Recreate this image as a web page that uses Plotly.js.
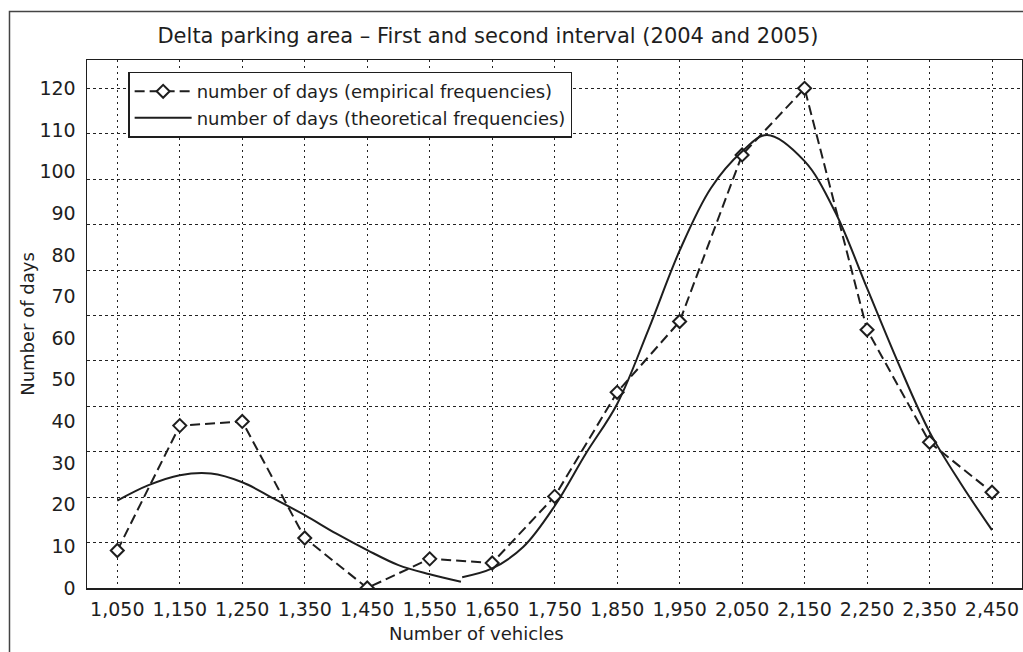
<!DOCTYPE html>
<html>
<head>
<meta charset="utf-8">
<script src="https://cdn.plot.ly/plotly-3.0.1.min.js"></script>
<style>html,body{margin:0;padding:0;background:#fff;}#chart{width:1023px;height:652px;}</style>
</head>
<body>
<div id="chart"></div>
<script>
// Categories (number of vehicles)
var vehicles = [1050, 1150, 1250, 1350, 1450, 1550, 1650, 1750, 1850, 1950, 2050, 2150, 2250, 2350, 2450];
var vehicleLabels = ["1,050","1,150","1,250","1,350","1,450","1,550","1,650","1,750","1,850","1,950","2,050","2,150","2,250","2,350","2,450"];
// Empirical frequencies (number of days)
var empiricalDays = [9, 39, 40, 12, 0, 7, 6, 22, 47, 64, 104, 120, 62, 35, 23];
// Theoretical frequencies (fitted curve, two pieces)
var theoX1 = [1050, 1100, 1150, 1200, 1250, 1300, 1350, 1400, 1450, 1500, 1550, 1600];
var theoY1 = [21, 24.7, 27.1, 27.5, 25.4, 21.5, 17.5, 13.1, 9.1, 5.5, 3.3, 1.5];
var theoX2 = [1602, 1650, 1700, 1750, 1800, 1850, 1900, 1950, 2000, 2050, 2090, 2150, 2200, 2250, 2300, 2350, 2400, 2450];
var theoY2 = [2.6, 4.7, 9.9, 19.7, 32.3, 44.2, 62, 81, 96, 104.8, 108.8, 102.5, 90, 72, 54, 37.5, 25.1, 13.9];
// Axis tick labels
var dayTicks = [0, 10, 20, 30, 40, 50, 60, 70, 80, 90, 100, 110, 120];
var dayTickLabels = ["0","10","20","30","40","50","60","70","80","90","100","110","120"];
var gridSteps = [1, 2, 3, 4, 5, 6, 7, 8, 9, 10, 11];

var yMax = 126.8;
var gridVals = gridSteps.map(function (k) { return k * 120 / 11; });

var theoX = theoX1.concat([null], theoX2);
var theoY = theoY1.concat([null], theoY2);

var FONT = "DejaVu Sans, sans-serif";
var INK = "#1e1e1e";

var traces = [
  {
    x: vehicles, y: empiricalDays, type: "scatter", mode: "lines+markers",
    name: "number of days (empirical frequencies)",
    line: { color: INK, width: 2, dash: "10px,5px" },
    marker: { symbol: "diamond", size: 10, color: "#ffffff", line: { color: INK, width: 2 } }
  },
  {
    x: theoX, y: theoY, type: "scatter", mode: "lines", yaxis: "y2",
    name: "number of days (theoretical frequencies)",
    connectgaps: false,
    line: { color: INK, width: 2, shape: "spline", smoothing: 1 }
  }
];

var layout = {
  width: 1023, height: 652,
  margin: { l: 87, r: 1, t: 60, b: 64 },
  paper_bgcolor: "#ffffff", plot_bgcolor: "#ffffff",
  font: { family: FONT, color: INK, size: 18 },
  showlegend: true,
  title: {
    text: "Delta parking area \u2013 First and second interval (2004 and 2005)",
    font: { family: FONT, size: 21, color: INK },
    xref: "container", yref: "container", x: 0.477, xanchor: "center", y: 0.945, yanchor: "middle"
  },
  xaxis: {
    range: [1001.5, 2498],
    tickvals: vehicles, ticktext: vehicleLabels,
    ticks: "", ticklabelstandoff: 4,
    tickfont: { family: FONT, size: 19, color: INK },
    showgrid: true, gridcolor: "#222", gridwidth: 1, griddash: "2px,4px",
    zeroline: false,
    showline: true, linecolor: INK, linewidth: 1.5, mirror: true
  },
  yaxis: {
    range: [0, yMax],
    tickvals: dayTicks, ticktext: dayTickLabels,
    ticks: "", ticklabelstandoff: 6,
    tickfont: { family: FONT, size: 19, color: INK },
    showgrid: false, zeroline: false,
    showline: true, linecolor: INK, linewidth: 1.5, mirror: true,
    title: { text: "Number of days", font: { family: FONT, size: 18, color: INK }, standoff: 0 }
  },
  yaxis2: {
    overlaying: "y", side: "left", range: [0, yMax],
    tickvals: gridVals, showticklabels: false, ticks: "",
    showgrid: true, gridcolor: "#222", gridwidth: 1, griddash: "3px,3px",
    zeroline: false, showline: false
  },
  legend: {
    x: 0.044, y: 0.978, xanchor: "left", yanchor: "top",
    bgcolor: "#ffffff", bordercolor: INK, borderwidth: 1.5,
    font: { family: FONT, size: 18, color: INK },
    itemwidth: 57,
    tracegroupgap: 0
  },
  annotations: [
    {
      text: "Number of vehicles", xref: "paper", yref: "paper",
      x: 0.417, y: -0.087, xanchor: "center", yanchor: "middle", showarrow: false,
      font: { family: FONT, size: 18, color: INK }
    }
  ],
  shapes: [
    {
      type: "rect", xref: "paper", yref: "paper",
      x0: -0.0829, x1: 1.02, y0: -0.3, y1: 1.0917,
      line: { color: "#444", width: 1.5 }, fillcolor: "rgba(0,0,0,0)", layer: "below"
    }
  ]
};

Plotly.newPlot("chart", traces, layout, { staticPlot: true, displayModeBar: false });
</script>
</body>
</html>
